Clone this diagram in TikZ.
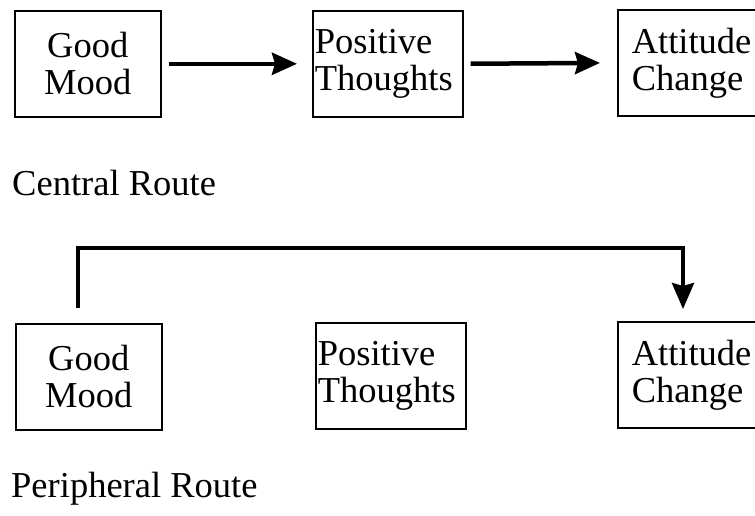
\documentclass[tikz,border=0pt]{standalone}
\usepackage{fontspec}
\setmainfont{Liberation Serif}
\usetikzlibrary{arrows.meta}

\tikzset{
  box/.style={draw, line width=1.6pt, anchor=north west, inner ysep=0pt,
    minimum height=106pt, font=\fontsize{36.5}{37}\selectfont},
  lbl/.style={anchor=base west, inner sep=0pt, font=\fontsize{36.5}{37}\selectfont},
  arrow/.style={line width=4.5pt, -{Stealth[length=25pt,width=22pt,inset=3pt]}},
  route/.style={line width=4pt, -{Stealth[length=26pt,width=22pt,inset=3pt]}}
}

\begin{document}
\begin{tikzpicture}[x=1pt,y=-1pt]
    \useasboundingbox (0,0) rectangle (755,516);
    \clip (0,0) rectangle (755,516);

    % Nodes
    \node[box, text width=146pt, inner xsep=0pt, align=center] (GM1) at (14,10) {Good\\Mood};
    \node[box, text width=146pt, inner xsep=2pt, align=left] (PT1) at (312,10) {Positive\\Thoughts};
    \node[box, text width=130pt, inner xsep=14pt, align=left] (AC1) at (617,9) {Attitude\\Change};
    \node[lbl] (CR) at (12,195) {Central Route};

    \node[box, text width=146pt, inner xsep=0pt, align=center] (GM2) at (15,323) {Good\\Mood};
    \node[box, text width=146pt, inner xsep=2pt, align=left] (PT2) at (315,322) {Positive\\Thoughts};
    \node[box, text width=130pt, inner xsep=14pt, align=left] (AC2) at (617,321) {Attitude\\Change};
    \node[lbl] (PR) at (11,497) {Peripheral Route};

    \coordinate (K) at (78,248);
    \coordinate (T) at (683,248);

    % Arrows
    \draw[arrow, shorten <=7pt, shorten >=15pt] (GM1.east) -- (PT1.west);
    \draw[arrow, shorten <=7pt, shorten >=17pt] (PT1.east) -- (AC1.west);
    \draw[route, shorten <=15pt, shorten >=12pt] (GM2.north -| K) -- (K) -- (T) -- (AC2.north -| T);
\end{tikzpicture}
\end{document}
